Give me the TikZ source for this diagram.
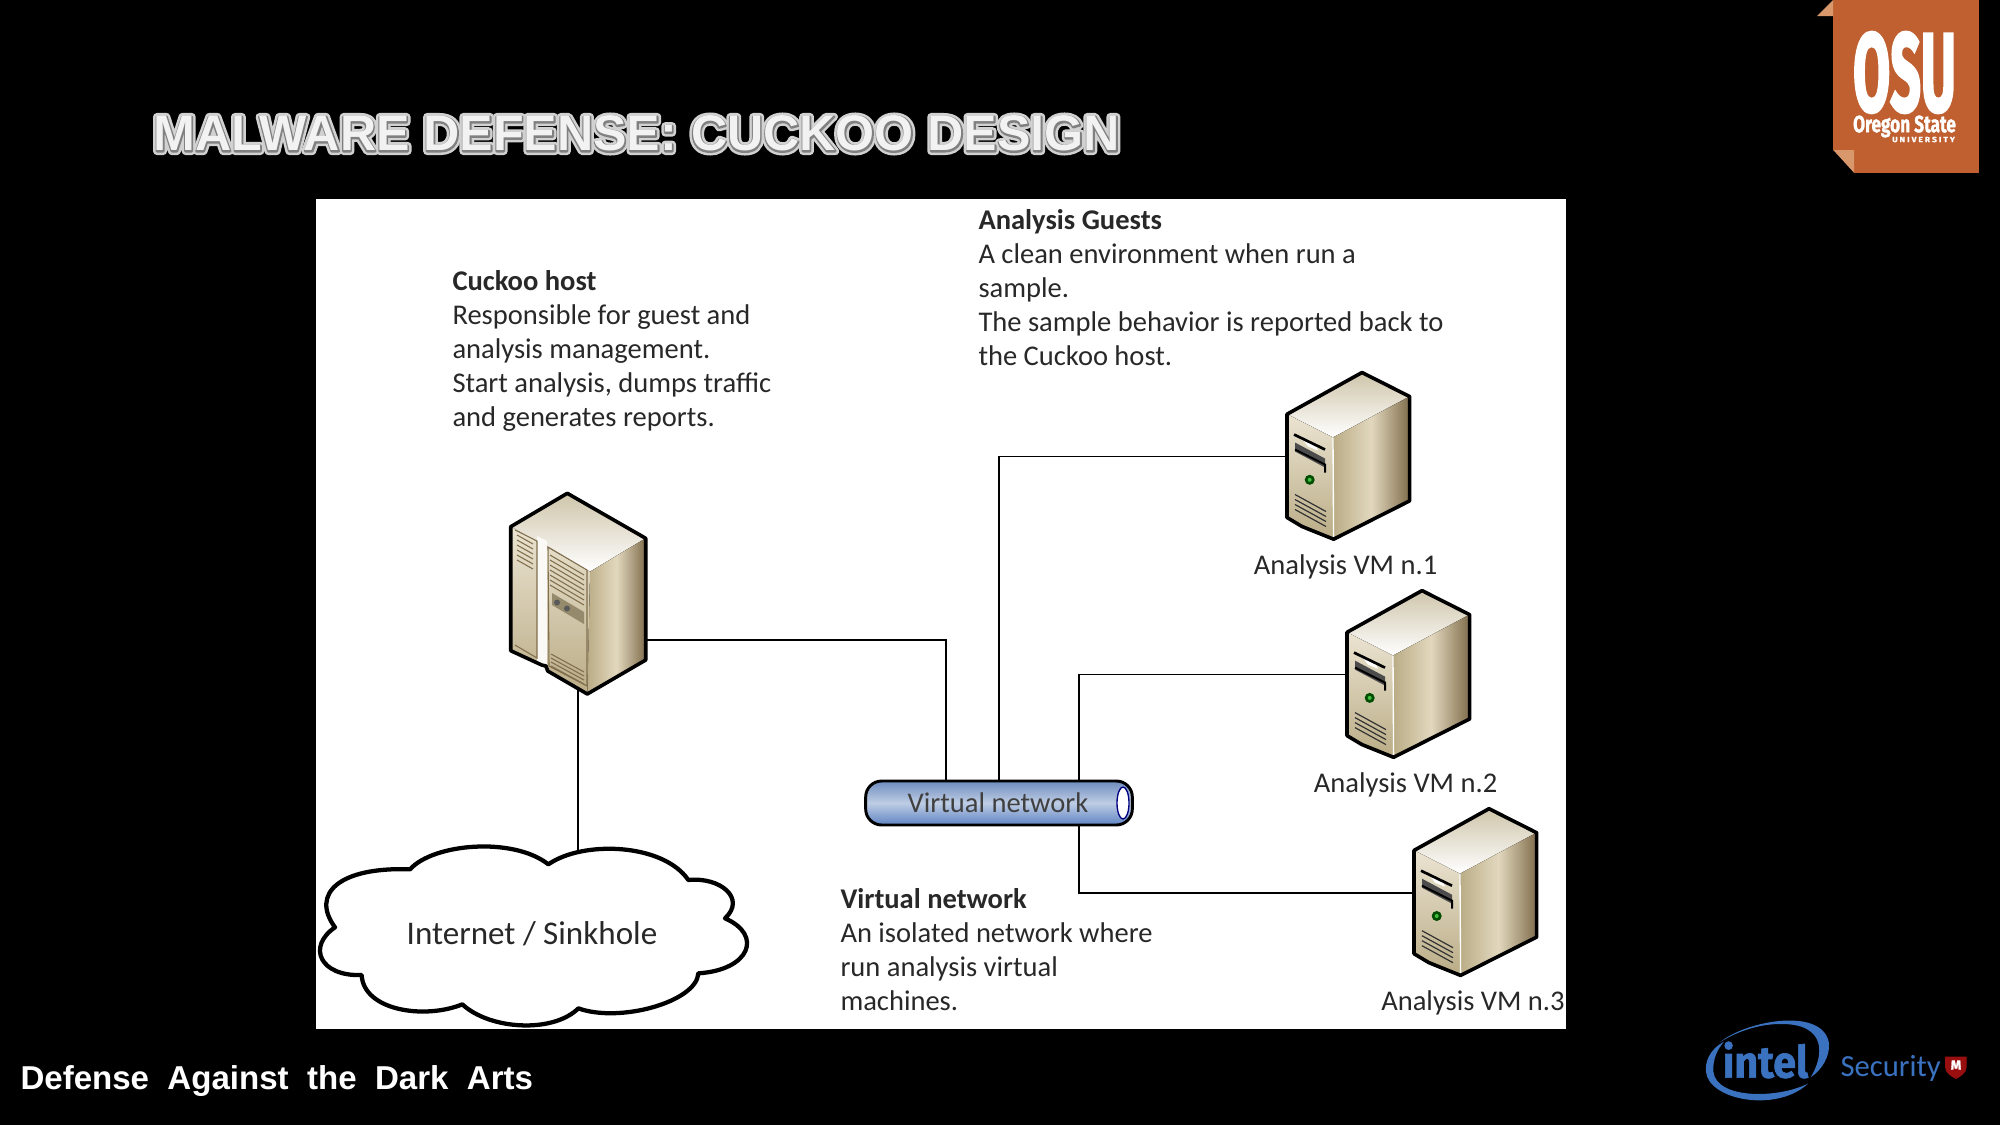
\documentclass[tikz,border=0pt]{standalone}
\usepackage{fontspec}
\usepackage{graphicx}
\setmainfont{Carlito}
\newfontfamily\headfont[BoldFeatures={FakeBold=5}]{Liberation Sans}
\newfontfamily\headfat[BoldFeatures={FakeBold=15}]{Liberation Sans}
\newfontfamily\footfont{Liberation Sans}
\newfontfamily\logofont[BoldFeatures={FakeBold=1.5}]{Fira Sans}
\newfontfamily\logofat[BoldFeatures={FakeBold=3}]{Fira Sans}
\newcommand{\roundtext}{\special{pdf:code 1 j 1 J}}
\definecolor{osuorange}{RGB}{192,95,47}
\definecolor{osufold}{RGB}{217,151,108}
\definecolor{inkblue}{RGB}{58,114,192}
\definecolor{bodyink}{RGB}{40,40,40}
\definecolor{servdark}{RGB}{128,110,76}
\definecolor{servmid}{RGB}{226,216,190}
\definecolor{servlow}{RGB}{186,172,134}
\definecolor{bustop}{RGB}{110,140,190}
\definecolor{busmid}{RGB}{190,205,228}
\definecolor{buslow}{RGB}{95,132,195}

\tikzset{every picture/.style={line width=0.75pt},
  wire/.style={draw=black,line width=1.3pt},
  edgeline/.style={draw=black,line width=2.7pt,line join=round},
  body/.style={anchor=north west,inner sep=0pt,align=left,text=bodyink,font=\fontsize{21.4}{25.5}\selectfont},
  vmlabel/.style={inner sep=0pt,text=bodyink,font=\fontsize{21.4}{24}\selectfont},
  vent/.style={draw=servdark,line width=0.8pt},
  vmserver/.pic={
    %top face
    \fill[top color=servlow!70,bottom color=white] (0,0) -- (47.6,24) -- (-29,65) -- (-75,41.7) -- cycle;
    %right face
    \fill[left color=servlow,right color=servdark,middle color=servmid] (-29,65) -- (47.6,24) -- (47.6,128.4) -- (-28.4,166.7) -- cycle;
    %front face
    \fill[top color=servmid!70,bottom color=servlow] (-75,41.7) -- (-29,65) -- (-28.4,166.7) -- (-75,145) -- cycle;
    \draw[white,line width=1pt] (-29,65) -- (-28.4,166.7);
    %slots
    \fill[gray!60!black] (-67,70) -- (-37,86) -- (-37,95) -- (-67,79) -- cycle;
    \fill[white] (-60,66) -- (-48,70) -- (-44,78) -- (-54,74) -- cycle;
    \draw[black,line width=2pt] (-68,62) -- (-37,77);
    \draw[black,line width=1.5pt] (-67,77) -- (-37,92) -- (-37,100);
    \fill[green!30!black] (-52.3,107.3) circle (5);
    \fill[green!50!gray] (-52.3,107.3) circle (2);
    \foreach \k in {0,5,10,15}{
      \draw[black!80,line width=0.9pt] (-67,122+\k) -- (-36,139+\k);
    }
    %outline
    \draw[edgeline] (0,0) -- (47.6,24) -- (47.6,128.4) -- (-28.4,166.7) -- (-60,154) -- (-75,145) -- (-75,41.7) -- cycle;
    \coordinate (-port) at (-75,84);
  }
}

\begin{document}
\begin{tikzpicture}[x=0.75pt,y=0.75pt,yscale=-1,xscale=1]
\useasboundingbox (0,0) rectangle (2000,1125);
\fill[black] (0,0) rectangle (2000,1125);
\fill[white] (316,199) rectangle (1566,1029);

%Shape: Logo
\fill[osuorange] (1833,0) rectangle (1979,173);
\fill[osufold] (1817,16) -- (1833,0) -- (1833,16) -- cycle;
\fill[osufold] (1833,150) -- (1854,150) -- (1854,173) -- cycle;
\fill[black] (1833,150) -- (1854,173) -- (1833,173) -- cycle;
% Text Node
\node[inner sep=0pt,text=white] (osuword) at (1904.5,72.5) {\resizebox{77pt}{59pt}{\logofat\bfseries OSU}};
\node[inner sep=0pt,text=white] (osuname) at (1904.5,126.5) {\resizebox{77pt}{12.5pt}{\logofont\bfseries Oregon State}};
\node[inner sep=0pt,text=white] (osuuni) at (1923.5,139.5) {\resizebox{47pt}{4pt}{\logofont\bfseries U N I V E R S I T Y}};

% Text Node
\node[anchor=west,inner sep=0pt,text=black!18,font=\headfat\bfseries\fontsize{37.6}{40}\selectfont] (titleback) at (153,134) {\roundtext MALWARE DEFENSE: CUCKOO DESIGN};
\node[anchor=west,inner sep=0pt,text=black!50,font=\headfont\bfseries\fontsize{37.6}{40}\selectfont] (titlemid) at (153,134) {\roundtext MALWARE DEFENSE: CUCKOO DESIGN};
\node[anchor=west,inner sep=0pt,text=black!5,font=\footfont\bfseries\fontsize{37.6}{40}\selectfont] (titletop) at (153,133) {MALWARE DEFENSE: CUCKOO DESIGN};
\node[anchor=west,inner sep=0pt,text=white,font=\footfont\bfseries\fontsize{24.8}{30}\selectfont] (footer) at (20,1081) {Defense\ \ Against\ \ the\ \ Dark\ \ Arts};

%Shape: Host server
\fill[top color=servlow!70,bottom color=white] (567.3,493.3) -- (645.7,538.3) -- (590,571.7) -- (510.7,526.7) -- cycle;
\fill[left color=servlow,right color=servdark,middle color=servmid] (590,571.7) -- (645.7,538.3) -- (645.7,660) -- (587.3,694) -- cycle;
\fill[top color=servmid!70,bottom color=servlow] (510.7,526.7) -- (590,571.7) -- (587.3,694) -- (547.7,671) -- (541.7,665) -- (510.7,650.7) -- cycle;
\fill[white!85!servmid] (537,536) -- (547,541) -- (547,668) -- (537,664) -- cycle;
\draw[servdark,line width=0.8pt] (515,530) -- (537,541) -- (537,658) -- (515,645);
\draw[servdark,line width=0.8pt] (548,547) -- (587,570) -- (587,686) -- (549,666) -- cycle;
\foreach \k in {0,5,...,25}{
  \draw[vent] (517,535+\k) -- (533,544+\k);
}
\foreach \k in {0,5,...,30}{
  \draw[vent] (550,555+\k) -- (584,575+\k);
}
\foreach \k in {0,4,8,12}{
  \draw[vent] (551,654+\k) -- (584,672+\k);
}
\fill[servlow!80!black] (552,593) -- (584,612) -- (584,624) -- (552,605) -- cycle;
\fill[black!65] (557,602.5) circle (3);
\fill[black!65] (567,608.5) circle (3);
\draw[edgeline] (567.3,493.3) -- (645.7,538.3) -- (645.7,660) -- (587.3,694) -- (547.7,671) -- (546,666) -- (541.7,665) -- (510.7,650.7) -- (510.7,526.7) -- cycle;
\coordinate (hostport) at (645.7,640);
\coordinate (hostfoot) at (577.7,689);

%Shape: Analysis servers
\pic[transform shape] (vmone) at (1362,372.5) {vmserver};
\pic[transform shape] (vmtwo) at (1422,590.6) {vmserver};
\pic[transform shape] (vmthree) at (1489,808.7) {vmserver};

%Shape: Cloud
\begin{scope}[shift={(300,820)},x=0.25pt,y=0.25pt]
\draw[draw=black,fill=white,line width=3.2pt,line join=round] (330,148) .. controls (400,70) and (640,50) .. (745,133) .. controls (850,60) and (1090,70) .. (1165,180) .. controls (1260,170) and (1340,235) .. (1275,295) .. controls (1390,345) and (1350,450) .. (1195,460) .. controls (1190,545) and (960,610) .. (835,565) .. controls (760,640) and (570,630) .. (487,553) .. controls (370,600) and (190,570) .. (185,465) .. controls (60,470) and (20,380) .. (105,322) .. controls (30,220) and (120,140) .. (330,148) -- cycle;
\end{scope}
\coordinate (cloudtop) at (577.7,851);
% Text Node
\node[inner sep=0pt,text=bodyink,font=\fontsize{24.8}{28}\selectfont] (cloudtext) at (532,934) {Internet / Sinkhole};

%Shape: Virtual network
\node[draw=black,line width=2.2pt,rounded corners=12pt,minimum width=200pt,minimum height=33pt,inner sep=0pt,top color=bustop,bottom color=buslow,middle color=busmid] (vnet) at (999,803) {};
\fill[white,draw=blue!50!black,line width=1pt] (1123,803) ellipse (6 and 16);
% Text Node
\node[inner sep=0pt,text=black!75,font=\fontsize{21.4}{24}\selectfont] (vnettext) at (998,803) {Virtual network};
\coordinate (busa) at (946,781);
\coordinate (busb) at (999,781);
\coordinate (busc) at (1079,781);
\coordinate (busd) at (1079,826);

%Straight Lines
\draw[wire] (hostport) -| (busa);
\draw[wire] (vmone-port) -| (busb);
\draw[wire] (vmtwo-port) -| (busc);
\draw[wire] (vmthree-port) -| (busd);
\draw[wire] (hostfoot) -- (cloudtop);

% Text Node
\node[body] (hosttext) at (452,269.5) {\textbf{Cuckoo host}\\Responsible for guest and\\analysis management.\\Start analysis, dumps traffic\\and generates reports.};
% Text Node
\node[body] (gueststext) at (978,209) {\textbf{Analysis Guests}\\A clean environment when run a\\sample.\\The sample behavior is reported back to\\the Cuckoo host.};
% Text Node
\node[body] (nettext) at (840,888) {\textbf{Virtual network}\\An isolated network where\\run analysis virtual\\machines.};
% Text Node
\node[vmlabel] (vmonetext) at (1345.6,567) {Analysis VM n.1};
% Text Node
\node[vmlabel] (vmtwotext) at (1405.6,785) {Analysis VM n.2};
% Text Node
\node[vmlabel] (vmthreetext) at (1473,1003) {Analysis VM n.3};

%Shape: Intel
\begin{scope}[shift={(1680,1000)},x=0.25pt,y=0.25pt]
\fill[inkblue] (118,128) .. controls (200,60) and (430,20) .. (447,130) .. controls (450,170) and (425,210) .. (392,232) .. controls (430,170) and (445,70) .. (300,72) .. controls (230,72) and (160,100) .. (118,128) -- cycle;
\fill[inkblue] (132,125) .. controls (85,150) and (75,190) .. (78,215) .. controls (85,300) and (290,340) .. (385,250) .. controls (300,295) and (110,300) .. (100,215) .. controls (98,180) and (110,150) .. (132,125) -- cycle;
\fill[white!10!red!60!black] (795,170) -- (860,170) -- (860,200) .. controls (860,220) and (840,230) .. (828,237) .. controls (815,230) and (795,220) .. (795,200) -- cycle;
\end{scope}
% Text Node
\node[inner sep=0pt,text=inkblue] (inteltext) at (1765.5,1060) {\resizebox{64pt}{27pt}{\logofont\bfseries intel}};
\node[inner sep=0pt,text=inkblue,anchor=west,font=\fontsize{23}{24}\selectfont] (security) at (1840,1068) {Security};
\node[inner sep=0pt,text=white,font=\logofont\bfseries\fontsize{10}{12}\selectfont] (shieldmark) at (1956,1065) {M};
\end{tikzpicture}
\end{document}
